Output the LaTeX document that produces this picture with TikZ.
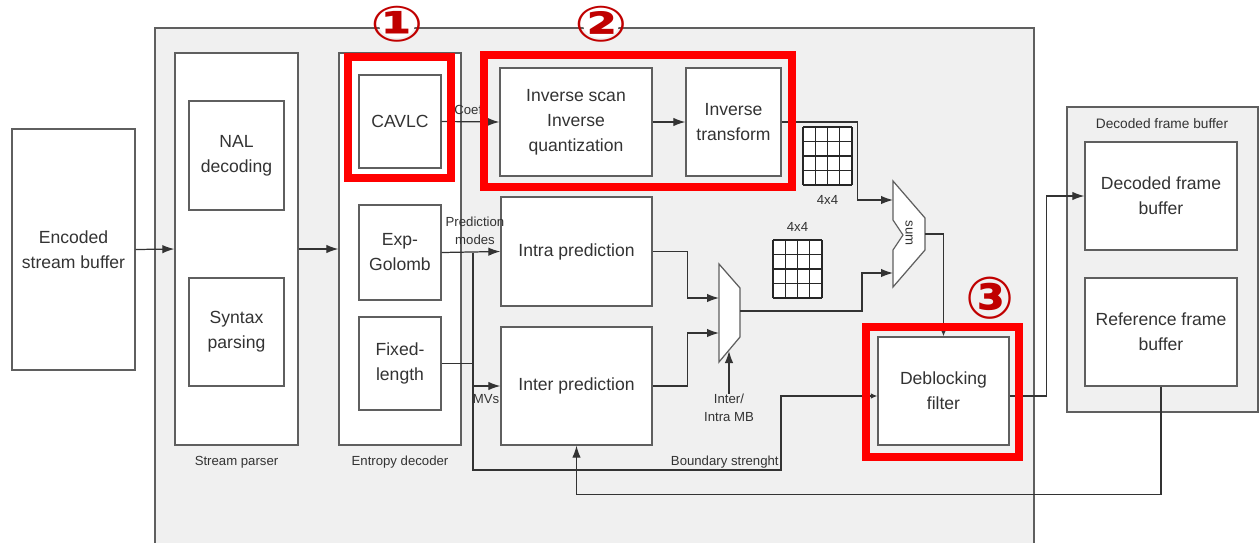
\documentclass[tikz,border=0pt]{standalone}
\usepackage{fontspec}
\setsansfont{Liberation Sans}
\newfontfamily\circfont{DejaVu Sans}
\usetikzlibrary{arrows.meta}
\definecolor{panelFill}{RGB}{240,240,240}
\definecolor{panelStroke}{RGB}{95,95,95}
\definecolor{markRed}{RGB}{255,0,0}
\definecolor{numRed}{RGB}{192,0,0}
\colorlet{ink}{black!80}
\tikzset{
  arrow/.style={-{Latex[length=2.4mm,width=1.7mm]}, draw=ink, line width=0.7pt},
  smallarrow/.style={-{Latex[length=1.3mm,width=1.1mm]}, draw=ink, line width=0.6pt},
  wire/.style={draw=ink, line width=0.7pt},
  block/.style={
    draw=panelStroke,
    fill=white,
    line width=0.8pt,
    inner sep=0pt,
    align=center,
    text=ink,
    font=\sffamily\fontsize{10}{14.2}\selectfont
  },
  holder/.style={
    draw=panelStroke,
    fill=white,
    line width=0.8pt,
    inner sep=0pt
  },
  tag/.style={font=\sffamily\fontsize{7.5}{10.5}\selectfont, text=ink, align=center, inner sep=0pt},
  focus/.style={draw=markRed, line width=4pt},
  badge/.style={text=numRed, inner sep=0pt, font=\circfont\bfseries\fontsize{36}{36}\selectfont}
}
\newcommand{\CellGrid}[2]{%
  \fill[white] (#1,#2) rectangle ++(49,58);
  \foreach \i in {0,...,4} {
    \draw[black!85, line width=0.8pt] (#1+\i*12.25,#2) -- ++(0,58);
    \draw[black!85, line width=0.8pt] (#1,#2+\i*14.5) -- ++(49,0);
  }
}

\begin{document}
\begin{tikzpicture}[x=0.02cm,y=-0.02cm]
  \clip (0,0) rectangle (1259,542);
  \fill[white] (0,0) rectangle (1259,542);

  % decoder core
  \filldraw[fill=panelFill, draw=panelStroke, line width=0.8pt] (155,28) rectangle (1034,560);

  \node[block, minimum width=2.46cm, minimum height=4.82cm] (encbuf) at (73.5,249.5) {Encoded\\stream buffer};

  \node[holder, minimum width=2.46cm, minimum height=7.84cm] (parser) at (236.5,249) {};
  \node[block, minimum width=1.9cm, minimum height=2.18cm] (nal) at (236.5,155.5) {NAL\\decoding};
  \node[block, minimum width=1.9cm, minimum height=2.16cm] (syntax) at (236.5,332) {Syntax\\parsing};
  \node[tag] (parserlbl) at (236.5,462) {Stream parser};

  \node[holder, minimum width=2.44cm, minimum height=7.84cm] (entropy) at (400,249) {};
  \node[block, minimum width=1.64cm, minimum height=1.86cm] (cavlc) at (400,121.5) {CAVLC};
  \node[block, minimum width=1.64cm, minimum height=1.9cm] (expg) at (400,252.5) {Exp-\\Golomb};
  \node[block, minimum width=1.64cm, minimum height=1.86cm] (fixed) at (400,363.5) {Fixed-\\length};
  \node[tag] (entropylbl) at (400,462) {Entropy decoder};

  \node[block, minimum width=3.04cm, minimum height=2.16cm] (invscan) at (576,122) {Inverse scan\\Inverse\\quantization};
  \node[block, minimum width=1.9cm, minimum height=2.16cm] (invtr) at (733.5,122) {Inverse\\transform};
  \node[block, minimum width=3.02cm, minimum height=2.18cm] (intra) at (576.5,251.5) {Intra prediction};
  \node[block, minimum width=3.02cm, minimum height=2.36cm] (inter) at (576.5,386) {Inter prediction};
  \node[block, minimum width=2.62cm, minimum height=2.16cm] (deblock) at (943.5,391) {Deblocking\\filter};

  \node[holder, fill=panelFill, minimum width=3.82cm, minimum height=6.1cm] (dpb) at (1162.5,259.5) {};
  \node[tag, font=\sffamily\fontsize{7.8}{10}\selectfont] (dpblbl) at (1162,124) {Decoded frame buffer};
  \node[block, minimum width=3.04cm, minimum height=2.16cm] (dfb) at (1161,196) {Decoded frame\\buffer};
  \node[block, minimum width=3.04cm, minimum height=2.16cm] (refbuf) at (1161,332) {Reference frame\\buffer};

  % residual blocks
  \CellGrid{803}{127}
  \node[tag] (gridlblA) at (827.5,200) {4x4};
  \CellGrid{773}{240}
  \node[tag] (gridlblB) at (797.5,227) {4x4};

  % sum and mux
  \filldraw[fill=white, draw=panelStroke, line width=0.7pt]
    (893,181) -- (925,218) -- (925,250) -- (893,287) -- (893,250) -- (903,235) -- (893,220) -- cycle;
  \node[tag, rotate=-90] (sumlbl) at (909,233) {sum};
  \coordinate (sumA) at (893,200);
  \coordinate (sumB) at (893,273);
  \coordinate (sumO) at (925,234);

  \filldraw[fill=white, draw=panelStroke, line width=0.7pt]
    (719,264) -- (740,288) -- (740,337) -- (719,362) -- cycle;
  \coordinate (muxA) at (719,298);
  \coordinate (muxB) at (719,333);
  \coordinate (muxO) at (740,311);
  \coordinate (muxS) at (729,351);
  \node[tag] (mbsel) at (729,408) {Inter/\\Intra MB};

  % connections
  \draw[arrow] (encbuf.east) -- (parser.west);
  \draw[arrow] (parser.east) -- (entropy.west);
  \draw[arrow] (cavlc.east) -- (invscan.west);
  \node[tag, anchor=west] (coeflbl) at (454,110) {Coef};
  \draw[arrow] (invscan.east) -- (invtr.east -| invtr.west);
  \draw[arrow] (invtr.east) -- ++(76,0) |- (sumA);
  \draw[smallarrow] (sumO) -| (deblock.north);

  \coordinate (bus) at (473,252.5);
  \draw[arrow] (expg.east) -- (intra.west);
  \node[tag] (predlbl) at (475,231) {Prediction\\modes};
  \draw[wire] (fixed.east) -- (fixed.east -| bus);
  \draw[arrow] (inter.west -| bus) -- (inter.west);
  \node[tag] (mvlbl) at (486,399) {MVs};

  \draw[arrow] (intra.east) -- ++(35,0) |- (muxA);
  \draw[arrow] (inter.east) -- ++(35,0) |- (muxB);
  \draw[arrow] (mbsel.north) -- (muxS);
  \draw[arrow] (muxO) -- ++(122,0) |- (sumB);

  \coordinate (bsturn) at (781,470);
  \draw[smallarrow] (bus) |- (bsturn) |- ([yshift=-1mm]deblock.west);
  \node[tag, anchor=east] (bslbl) at (779,462) {Boundary strenght};

  \draw[arrow] ([yshift=-1mm]deblock.east) -- ++(37,0) |- (dfb.west);
  \draw[arrow] (refbuf.south) -- ++(0,108) -| (inter.south);

  % highlighted parts
  \draw[focus] (348,57) rectangle (451,178);
  \draw[focus] (484,55) rectangle (792,187);
  \draw[focus] (866,327) rectangle (1019,457);

  \fill[white] (397,24) ellipse (18 and 14);
  \node[badge] (markA) at (397,24) {\scalebox{1}[0.78]{①}};
  \fill[white] (601,24) ellipse (18 and 14);
  \node[badge] (markB) at (601,24) {\scalebox{1}[0.78]{②}};
  \node[badge, font=\circfont\bfseries\fontsize{33}{33}\selectfont] (markC) at (990,298) {③};
\end{tikzpicture}
\end{document}
